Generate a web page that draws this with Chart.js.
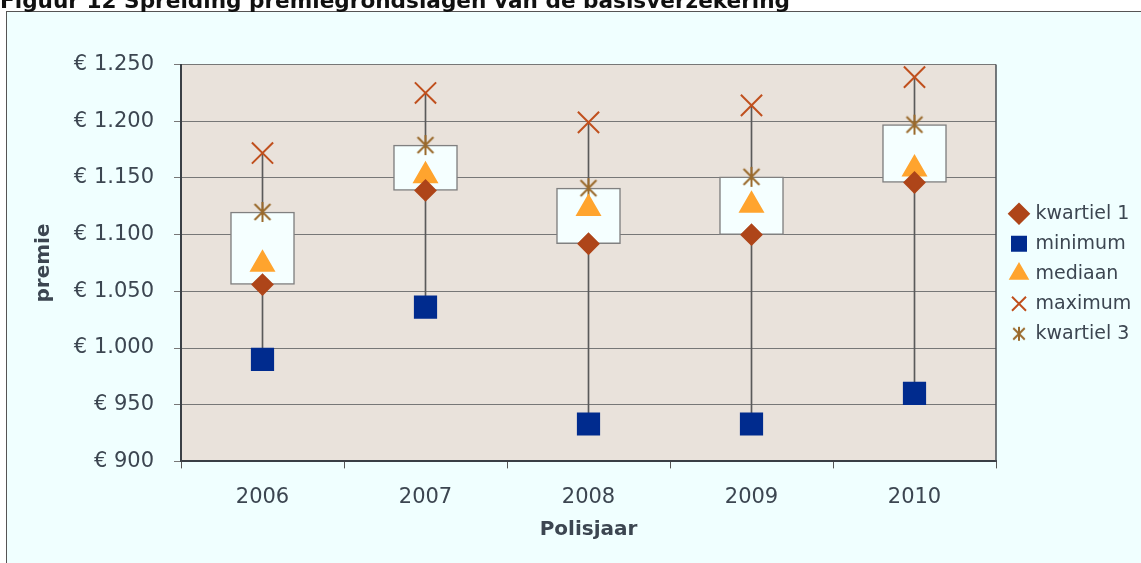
<!DOCTYPE html>
<html>
<head>
<meta charset="utf-8">
<script src="https://cdn.jsdelivr.net/npm/chart.js@4"></script>
<style>
  html, body { margin: 0; padding: 0; background: #fff; overflow: hidden; }
  #title { position: absolute; left: 0; top: -10px; font: bold 21.6px 'DejaVu Sans', sans-serif; line-height: 21px; color: #111; white-space: nowrap; z-index: 2; }
  #panel { position: absolute; left: 6px; top: 11px; width: 1140px; height: 560px; background: #F0FFFF; border: 1px solid #555; }
  #wrap { position: absolute; left: 0; top: 0; width: 1134px; height: 551px; }
</style>
</head>
<body>
<div id="title">Figuur 12 Spreiding premiegrondslagen van de basisverzekering</div>
<div id="panel"><div id="wrap"><canvas id="chart"></canvas></div></div>
<script>
  // Data
  const years = ['2006', '2007', '2008', '2009', '2010'];
  const minimum = [990, 1036, 933, 933, 960];
  const kwartiel1 = [1056, 1139, 1092, 1100, 1146];
  const mediaan = [1074, 1152, 1123, 1126, 1158];
  const kwartiel3 = [1120, 1179, 1141, 1151, 1197];
  const maximum = [1172, 1225, 1199, 1214, 1239];
  const yMin = 900, yMax = 1250, yStep = 50;

  const textColor = '#3C4651';

  // asterisk marker (vertical bar + X)
  function asterisk(size, color) {
    const c = document.createElement('canvas');
    c.width = size; c.height = size;
    const g = c.getContext('2d');
    g.strokeStyle = color; g.lineWidth = 2;
    const m = size / 2, d = size * 0.36;
    g.beginPath();
    g.moveTo(m, 1); g.lineTo(m, size - 1);
    g.moveTo(m - d, m - d); g.lineTo(m + d, m + d);
    g.moveTo(m + d, m - d); g.lineTo(m - d, m + d);
    g.stroke();
    return c;
  }
  const astBig = asterisk(22, '#9A6A2C');
  const astSmall = asterisk(16, '#9A6A2C');

  const plotBg = {
    id: 'plotBg',
    beforeDraw(chart) {
      const { ctx, chartArea: a } = chart;
      ctx.save();
      ctx.fillStyle = '#E9E2DB';
      ctx.fillRect(a.left, a.top, a.width, a.height);
      ctx.restore();
    },
    afterDraw(chart) {
      const { ctx, chartArea: a } = chart;
      ctx.save();
      ctx.strokeStyle = '#4a4f55';
      ctx.lineWidth = 1.5;
      ctx.beginPath();
      ctx.moveTo(a.right, a.top);
      ctx.lineTo(a.right, a.bottom);
      ctx.stroke();
      ctx.restore();
    }
  };

  // fixed legend width + small nudge
  const legendFix = {
    id: 'legendFix',
    afterInit(chart) {
      const lg = chart.legend;
      const fit = lg.fit;
      lg.fit = function () { fit.call(this); this.width = 145; };
    },
    afterLayout(chart) {
      const lg = chart.legend;
      lg.left += 5; lg.right += 5;
      lg.top -= 40; lg.bottom -= 40;
    }
  };

  const marker = (label, data, style, radius, color, border) => ({
    type: 'line',
    label: label,
    data: data,
    showLine: false,
    pointStyle: style,
    pointRadius: radius,
    pointHoverRadius: radius,
    backgroundColor: color,
    borderColor: border || color,
    borderWidth: 2
  });

  const ctx = document.getElementById('chart').getContext('2d');
  const chart = new Chart(ctx, {
    type: 'bar',
    data: {
      labels: years,
      datasets: [
        marker('kwartiel 1', kwartiel1, 'rectRot', 10, '#AE4519'),
        marker('minimum', minimum, 'rect', 15, '#002B8E'),
        marker('mediaan', mediaan, 'triangle', 13, '#FFA42E'),
        marker('maximum', maximum, 'crossRot', 15, '#C0501E'),
        marker('kwartiel 3', kwartiel3, astBig, 11, '#9A6A2C'),
        {
          label: 'box',
          data: kwartiel1.map((q, i) => [q, kwartiel3[i]]),
          backgroundColor: '#F5FFFF',
          borderColor: '#808080',
          borderWidth: 1.5,
          borderSkipped: false,
          barThickness: 64,
          grouped: false
        },
        {
          label: 'whisker',
          data: minimum.map((m, i) => [m, maximum[i]]),
          backgroundColor: '#5a5a5a',
          borderWidth: 0,
          barThickness: 1,
          grouped: false
        }
      ]
    },
    options: {
      responsive: true,
      maintainAspectRatio: false,
      animation: false,
      layout: { padding: { top: 52.6, left: 0, right: 0, bottom: 0 } },
      plugins: {
        tooltip: { enabled: false },
        legend: {
          position: 'right',
          labels: {
            color: textColor,
            font: { family: 'DejaVu Sans', size: 19 },
            usePointStyle: true,
            boxWidth: 14,
            boxHeight: 14,
            padding: 11,
            filter: item => item.datasetIndex < 5,
            generateLabels(chart) {
              const items = Chart.defaults.plugins.legend.labels.generateLabels(chart);
              items.forEach(it => { if (it.datasetIndex === 4) it.pointStyle = astSmall; });
              return items;
            }
          }
        }
      },
      scales: {
        x: {
          afterFit(s) { s.height = 101.6; },
          grid: { drawOnChartArea: false, drawTicks: true, tickLength: 7, color: '#555', offset: true },
          border: { color: '#3a3f45', width: 2 },
          ticks: { color: textColor, font: { family: 'DejaVu Sans', size: 21 }, padding: 17 },
          title: { display: true, text: 'Polisjaar', color: textColor, font: { family: 'DejaVu Sans', size: 20, weight: 'bold' }, padding: { bottom: 21 } }
        },
        y: {
          min: yMin,
          max: yMax,
          afterFit(s) { s.width = 174; },
          grid: { color: '#777', tickLength: 7, tickColor: '#777' },
          border: { color: '#3a3f45', width: 2 },
          ticks: {
            stepSize: yStep,
            color: textColor,
            font: { family: 'DejaVu Sans', size: 21 },
            padding: 20,
            callback: v => '€ ' + String(v).replace(/\B(?=(\d{3})+(?!\d))/g, '.')
          },
          title: { display: true, text: 'premie', color: textColor, font: { family: 'DejaVu Sans', size: 20, weight: 'bold' }, padding: { top: 25 } }
        }
      }
    },
    plugins: [plotBg, legendFix]
  });
</script>
</body>
</html>
